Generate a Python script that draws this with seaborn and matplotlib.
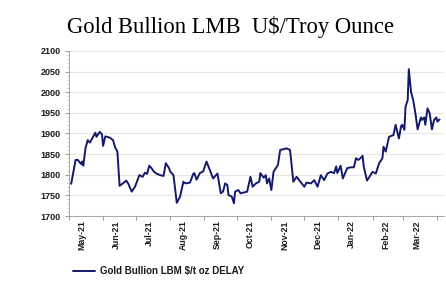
import matplotlib
matplotlib.use("Agg")
import matplotlib.pyplot as plt
import matplotlib.dates as mdates
from matplotlib.ticker import MultipleLocator, NullFormatter
import numpy as np
import pandas as pd
import seaborn as sns

# gold price readings (date, US$/oz)
dates = ["2021-05-03", "2021-05-07", "2021-05-09", "2021-05-12", "2021-05-13", "2021-05-14",
         "2021-05-16", "2021-05-18", "2021-05-20", "2021-05-25", "2021-05-26", "2021-05-29",
         "2021-05-31", "2021-06-01", "2021-06-03", "2021-06-07", "2021-06-10", "2021-06-12",
         "2021-06-14", "2021-06-16", "2021-06-20", "2021-06-22", "2021-06-24", "2021-06-27",
         "2021-06-30", "2021-07-04", "2021-07-07", "2021-07-09", "2021-07-11", "2021-07-13",
         "2021-07-15", "2021-07-17", "2021-07-20", "2021-07-23", "2021-07-26", "2021-07-28",
         "2021-07-31", "2021-08-01", "2021-08-04", "2021-08-07", "2021-08-10", "2021-08-13",
         "2021-08-15", "2021-08-19", "2021-08-22", "2021-08-23", "2021-08-25", "2021-08-28",
         "2021-08-31", "2021-09-03", "2021-09-06", "2021-09-09", "2021-09-13", "2021-09-16",
         "2021-09-18", "2021-09-20", "2021-09-22", "2021-09-23", "2021-09-26", "2021-09-28",
         "2021-09-29", "2021-10-02", "2021-10-04", "2021-10-10", "2021-10-13", "2021-10-15",
         "2021-10-18", "2021-10-21", "2021-10-22", "2021-10-25", "2021-10-27", "2021-10-28",
         "2021-10-30", "2021-11-01", "2021-11-03", "2021-11-06", "2021-11-07", "2021-11-09",
         "2021-11-15", "2021-11-18", "2021-11-21", "2021-11-24", "2021-11-28", "2021-12-01",
         "2021-12-03", "2021-12-07", "2021-12-10", "2021-12-13", "2021-12-16", "2021-12-19",
         "2021-12-22", "2021-12-25", "2021-12-28", "2021-12-30", "2021-12-31", "2022-01-03",
         "2022-01-05", "2022-01-09", "2022-01-12", "2022-01-15", "2022-01-17", "2022-01-19",
         "2022-01-21", "2022-01-23", "2022-01-24", "2022-01-27", "2022-01-29", "2022-02-01",
         "2022-02-04", "2022-02-07", "2022-02-10", "2022-02-11", "2022-02-13", "2022-02-16",
         "2022-02-20", "2022-02-22", "2022-02-25", "2022-02-27", "2022-02-28", "2022-03-02",
         "2022-03-03", "2022-03-05", "2022-03-06", "2022-03-08", "2022-03-10", "2022-03-12",
         "2022-03-14", "2022-03-17", "2022-03-18", "2022-03-20", "2022-03-21", "2022-03-23",
         "2022-03-25", "2022-03-27", "2022-03-29", "2022-03-31", "2022-04-01", "2022-04-03"]

prices = [1778, 1836, 1836, 1826, 1832, 1822,
          1864, 1884, 1878, 1902, 1892, 1904,
          1898, 1870, 1893, 1890, 1884, 1866,
          1856, 1773, 1781, 1786, 1778, 1759,
          1771, 1799, 1795, 1805, 1802, 1822,
          1816, 1808, 1802, 1799, 1797, 1828,
          1816, 1808, 1799, 1732, 1747, 1783,
          1779, 1781, 1802, 1804, 1788, 1804,
          1808, 1832, 1812, 1791, 1803, 1755,
          1759, 1779, 1775, 1751, 1747, 1731,
          1759, 1763, 1755, 1759, 1795, 1771,
          1779, 1783, 1804, 1793, 1799, 1779,
          1791, 1763, 1807, 1820, 1824, 1860,
          1864, 1860, 1783, 1795, 1781, 1771,
          1781, 1779, 1787, 1771, 1799, 1787,
          1803, 1807, 1804, 1820, 1804, 1822,
          1791, 1816, 1818, 1818, 1840, 1836,
          1840, 1846, 1820, 1786, 1794, 1807,
          1803, 1828, 1840, 1868, 1856, 1892,
          1896, 1921, 1888, 1918, 1921, 1909,
          1965, 1981, 2056, 2001, 1981, 1949,
          1910, 1939, 1933, 1939, 1921, 1961,
          1949, 1910, 1933, 1939, 1929, 1934]

df = pd.DataFrame({"date": pd.to_datetime(dates), "price": prices})

sns.set_style("white")
plt.rcParams['font.family'] = ['Liberation Sans', 'DejaVu Sans']

fig = plt.figure(figsize=(4.46, 2.82), dpi=100)
ax = fig.add_axes([69 / 446, 1 - 216 / 282, 375 / 446, 165 / 282])

sns.lineplot(data=df, x="date", y="price", ax=ax, color="#141a6b", linewidth=1.4,
             label="Gold Bullion LBM $/t oz DELAY")

ax.set_xlim(pd.Timestamp("2021-05-01"), pd.Timestamp("2022-04-07"))
ax.set_ylim(1700, 2100)
ax.yaxis.set_major_locator(MultipleLocator(50))
ax.yaxis.set_minor_locator(MultipleLocator(10))
ax.grid(axis="y", color="#e8e6e0", linewidth=0.8)
ax.set_axisbelow(True)

# month boundaries as ticks, labels in the middle of each month
ax.xaxis.set_major_locator(mdates.MonthLocator(bymonthday=1))
ax.xaxis.set_major_formatter(NullFormatter())
ax.xaxis.set_minor_locator(mdates.MonthLocator(bymonthday=13))
ax.xaxis.set_minor_formatter(mdates.DateFormatter("%b-%y"))
ax.tick_params(axis="x", which="major", length=3, width=0.6, color="#888888", direction="out")
ax.tick_params(axis="x", which="minor", length=0, labelsize=6.3, labelrotation=90, pad=3,
               labelcolor="#1a1a1a")
ax.tick_params(axis="y", which="major", length=3, width=0.6, color="#888888", labelsize=6.5,
               pad=3, labelcolor="#1a1a1a")
ax.tick_params(axis="y", which="minor", length=1.5, width=0.4, color="#aaaaaa")
ax.tick_params(left=True, bottom=True, which="both")
for lab in ax.get_xticklabels(minor=True) + ax.get_yticklabels():
    lab.set_fontweight("bold")
# drop the label for the stray April tick
for t, lab in zip(ax.xaxis.get_minorticklocs(), ax.get_xticklabels(minor=True)):
    if mdates.num2date(t).month == 4 and mdates.num2date(t).year == 2022:
        lab.set_visible(False)

ax.set_xlabel("")
ax.set_ylabel("")
sns.despine(ax=ax, top=True, right=True)
for s in ["left", "bottom"]:
    ax.spines[s].set_color("#999999")
    ax.spines[s].set_linewidth(0.6)

leg = ax.legend(loc="center left", bbox_to_anchor=(0.0, -0.335), frameon=False,
                prop={"size": 7, "weight": "bold"}, handlelength=2.3, borderaxespad=0,
                handletextpad=0.45)
for txt in leg.get_texts():
    txt.set_color("#1a1a1a")

fig.text(0.517, 0.903, "Gold Bullion LMB  U$/Troy Ounce", ha="center", va="center",
         fontsize=16.3, family="Liberation Serif", color="black")

fig.savefig("out.png", dpi=100)
